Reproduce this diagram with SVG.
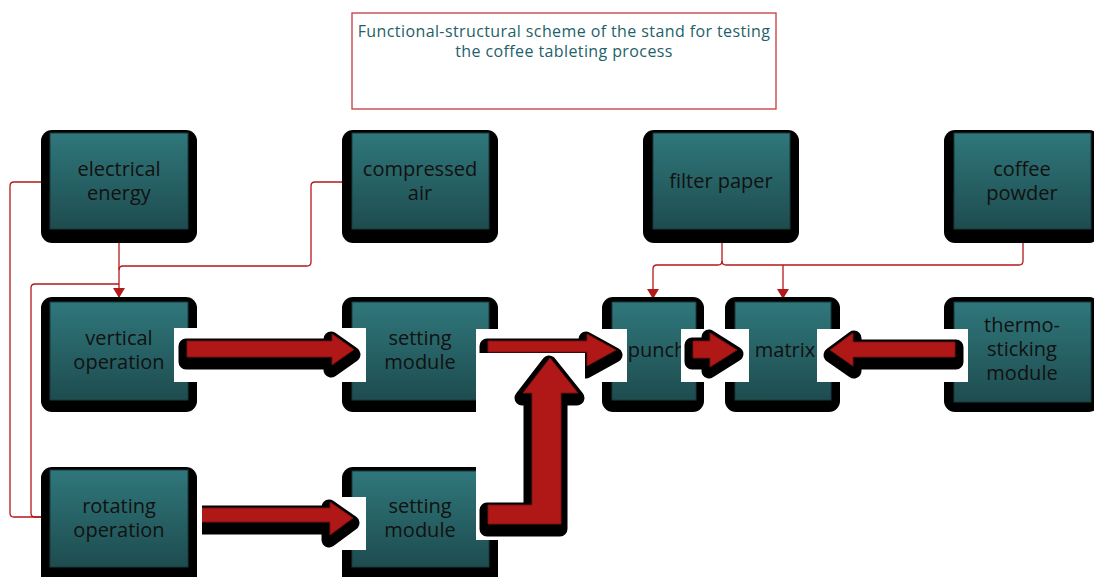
<svg xmlns="http://www.w3.org/2000/svg" width="1094" height="577" viewBox="0 0 1094 577">
<defs>
<linearGradient id="teal" x1="0" y1="0" x2="0" y2="1">
<stop offset="0" stop-color="#2f777b"/>
<stop offset="1" stop-color="#1e4c4f"/>
</linearGradient>
<marker id="arr" markerUnits="userSpaceOnUse" markerWidth="10" markerHeight="12" refX="10" refY="6" orient="auto" viewBox="0 0 10 12">
<path d="M0,0 L10,6 L0,12 Z" fill="#b3191b"/>
</marker>
<clipPath id="clipD"><rect x="202" y="497" width="164" height="53"/></clipPath>
<style>
.outer{fill:#000}
.inner{fill:url(#teal);stroke:#173b3e;stroke-width:1}
.lbl{font-family:"Open Sans","Noto Sans",sans-serif;font-size:20px;fill:#111;text-anchor:middle}
.title{font-family:"Open Sans","Noto Sans",sans-serif;font-size:16px;letter-spacing:0.4px;fill:#245f69;text-anchor:middle}
.con{fill:none;stroke:#b3191b;stroke-width:1.3;stroke-linejoin:round}
.wb{fill:#fff}
.sh{fill:#000;stroke:#000;stroke-width:15;stroke-linejoin:round}
.ar{fill:#b01818;stroke:#7c1010;stroke-width:1}
</style>
</defs>
<rect width="1094" height="577" fill="#fff"/>

<g id="title">
<rect x="352" y="13" width="424" height="96" fill="#fff" stroke="#c53a3a" stroke-width="1.3"/>
<text class="title" x="564" y="37">Functional-structural scheme of the stand for testing</text>
<text class="title" x="564" y="57">the coffee tableting process</text>
</g>

<g id="connectors">
<path class="con" d="M50,182 H14 Q10,182 10,186 V513 Q10,517 14,517 H41"/>
<path class="con" d="M119,284 H35 Q31,284 31,288 V513 Q31,517 35,517 H41"/>
<path class="con" d="M352,182 H315 Q311,182 311,186 V262 Q311,266 307,266 H123 Q119,266 119,270"/>
<path class="con" d="M119,229 V298" marker-end="url(#arr)"/>
<path class="con" d="M722,229 V261 Q722,265 718,265 H657 Q653,265 653,269 V299" marker-end="url(#arr)"/>
<path class="con" d="M722,261 Q722,265 726,265 H1019 Q1023,265 1023,261 V229"/>
<path class="con" d="M783,265 V299" marker-end="url(#arr)"/>
</g>

<g id="electrical-energy">
<rect class="outer" x="41" y="130" width="156" height="113" rx="11"/>
<rect class="inner" x="50" y="133" width="138" height="96"/>
<text class="lbl" x="119" y="176">electrical</text>
<text class="lbl" x="119" y="200">energy</text>
</g>
<g id="compressed-air">
<rect class="outer" x="342" y="130" width="156" height="113" rx="11"/>
<rect class="inner" x="352" y="133" width="137" height="96"/>
<text class="lbl" x="420" y="176">compressed</text>
<text class="lbl" x="420" y="200">air</text>
</g>
<g id="filter-paper">
<rect class="outer" x="643" y="130" width="156" height="113" rx="11"/>
<rect class="inner" x="653" y="133" width="137" height="96"/>
<text class="lbl" x="721" y="188">filter paper</text>
</g>
<g id="coffee-powder">
<rect class="outer" x="944" y="130" width="156" height="113" rx="11"/>
<rect class="inner" x="954" y="133" width="137" height="96"/>
<text class="lbl" x="1022" y="176">coffee</text>
<text class="lbl" x="1022" y="200">powder</text>
</g>

<g id="vertical-operation">
<rect class="outer" x="41" y="297" width="156" height="115" rx="11"/>
<rect class="inner" x="50" y="302" width="138" height="98"/>
<text class="lbl" x="119" y="345">vertical</text>
<text class="lbl" x="119" y="369">operation</text>
</g>
<g id="setting-module-1">
<rect class="outer" x="342" y="297" width="156" height="115" rx="11"/>
<rect class="inner" x="352" y="302" width="137" height="98"/>
<text class="lbl" x="420" y="345">setting</text>
<text class="lbl" x="420" y="369">module</text>
</g>
<g id="punch">
<rect class="outer" x="602" y="297" width="102" height="115" rx="11"/>
<rect class="inner" x="612" y="302" width="84" height="98"/>
<text class="lbl" x="657" y="357">punch</text>
</g>
<g id="matrix">
<rect class="outer" x="725" y="297" width="115" height="115" rx="11"/>
<rect class="inner" x="735" y="302" width="96" height="98"/>
<text class="lbl" x="785" y="357">matrix</text>
</g>
<g id="thermo-sticking-module">
<rect class="outer" x="944" y="297" width="156" height="115" rx="11"/>
<rect class="inner" x="954" y="302" width="137" height="100"/>
<text class="lbl" x="1022" y="332">thermo-</text>
<text class="lbl" x="1022" y="356">sticking</text>
<text class="lbl" x="1022" y="380">module</text>
</g>

<g id="rotating-operation">
<rect class="outer" x="41" y="467" width="156" height="120" rx="11"/>
<rect class="inner" x="50" y="470" width="138" height="97"/>
<text class="lbl" x="119" y="513">rotating</text>
<text class="lbl" x="119" y="537">operation</text>
</g>
<g id="setting-module-2">
<rect class="outer" x="342" y="467" width="156" height="120" rx="11"/>
<rect class="inner" x="352" y="471" width="137" height="96"/>
<text class="lbl" x="420" y="513">setting</text>
<text class="lbl" x="420" y="537">module</text>
</g>

<g id="flow-arrows">
<rect class="wb" x="174" y="328" width="192" height="54"/>
<path class="sh" transform="translate(-1,5)" d="M187,341 H332 V334 L354,349.5 L332,365 V357 H187 Z"/>
<path class="ar" d="M187,341 H332 V334 L354,349.5 L332,365 V357 H187 Z"/>
<rect class="wb" x="476" y="329" width="151" height="53"/>
<path class="sh" transform="translate(-1,5)" d="M488,341 H587 V334 L616,350 L587,366 V352 H488 Z"/>
<path class="ar" d="M488,341 H587 V334 L616,350 L587,366 V352 H488 Z"/>
<rect class="wb" x="476" y="353" width="109" height="187"/>
<path class="sh" transform="translate(-1,5)" d="M488,505 H532 V393 H523 L550,358 L578,393 H561 V524 H488 Z"/>
<path class="ar" d="M488,505 H532 V393 H523 L550,358 L578,393 H561 V524 H488 Z"/>
<rect class="wb" x="342" y="497" width="24" height="53"/>
<g clip-path="url(#clipD)">
<path class="sh" transform="translate(-1,5)" d="M190,508 H330 V502 L353,518 L330,535 V522 H190 Z"/>
<path class="ar" d="M190,508 H330 V502 L353,518 L330,535 V522 H190 Z"/>
</g>
<rect class="wb" x="681" y="329" width="68" height="53"/>
<path class="sh" transform="translate(-1,4)" d="M693,341 H710 V333 L737,350 L710,367 V358 H693 Z"/>
<path class="ar" d="M693,341 H710 V333 L737,350 L710,367 V358 H693 Z"/>
<rect class="wb" x="817" y="329" width="151" height="53"/>
<path class="sh" transform="translate(1,5)" d="M955,342 H853 V333 L830,350 L853,366 V357 H955 Z"/>
<path class="ar" d="M955,342 H853 V333 L830,350 L853,366 V357 H955 Z"/>
</g>
</svg>
